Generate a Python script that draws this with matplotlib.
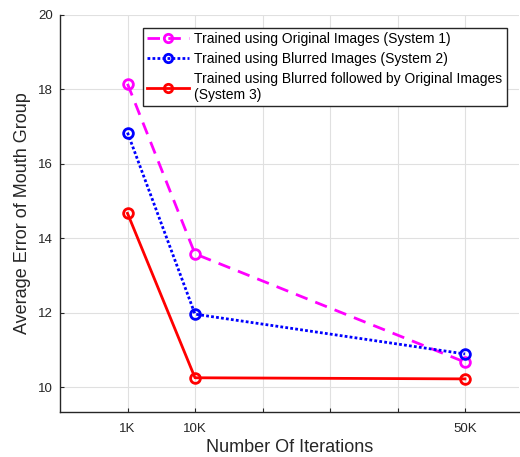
import matplotlib
matplotlib.use("Agg")
import matplotlib.pyplot as plt

x_labels = ['1K', '10K', '', '', '', '50K']
x_pos = [1, 2, 3, 4, 5, 6]
iter_pos = [1, 2, 6]
sys1 = [18.15, 13.58, 10.67]
sys2 = [16.84, 11.96, 10.89]
sys3 = [14.67, 10.25, 10.22]
labels = ['Trained using Original Images (System 1)',
          'Trained using Blurred Images (System 2)',
          'Trained using Blurred followed by Original Images\n(System 3)']

plt.rcParams['font.family'] = ['Liberation Sans', 'DejaVu Sans']
fig = plt.figure(figsize=(5.2, 4.57), dpi=100)
ax = fig.add_axes([60/520, 45/457, 459/520, 397/457])

mk = dict(marker='o', markersize=7, markerfacecolor='none', markeredgewidth=2)
ax.plot(iter_pos, sys1, linestyle=(0, (4.5, 3)), color='#ff00ff', linewidth=2, label=labels[0], **mk)
ax.plot(iter_pos, sys2, linestyle=(0, (1, 0.8)), color='#0000ff', linewidth=2, label=labels[1], **mk)
ax.plot(iter_pos, sys3, linestyle='-', color='#ff0000', linewidth=2, label=labels[2], **mk)

ax.set_xlim(0, 6.8)
ax.set_ylim(9.33, 20)
ax.set_xticks(x_pos)
ax.set_xticklabels(x_labels)
ax.set_yticks([10, 12, 14, 16, 18, 20])
ax.grid(True, color='#e0e0e0', linewidth=0.8)
ax.set_axisbelow(True)
for s in ['top', 'right']:
    ax.spines[s].set_visible(False)
for s in ['left', 'bottom']:
    ax.spines[s].set_color('#262626')
    ax.spines[s].set_linewidth(1)
ax.tick_params(direction='in', length=3, labelsize=9.5, colors='#262626')
ax.tick_params(axis='x', pad=8)
ax.tick_params(axis='y', pad=5)
ax.set_xlabel('Number Of Iterations', fontsize=13, color='#262626', labelpad=3)
ax.set_ylabel('Average Error of Mouth Group', fontsize=13, color='#262626', labelpad=5)

leg = ax.legend(loc='upper left', bbox_to_anchor=(83/459, 1 - 13/397), fontsize=10,
                frameon=True, fancybox=False, edgecolor='#262626', framealpha=1,
                handlelength=3.0, handletextpad=0.4, borderpad=0.3, labelspacing=0.42,
                borderaxespad=0)
leg.get_frame().set_linewidth(1)
for h in leg.legend_handles:
    h.set_markersize(6)

fig.savefig('out.png', dpi=100)
